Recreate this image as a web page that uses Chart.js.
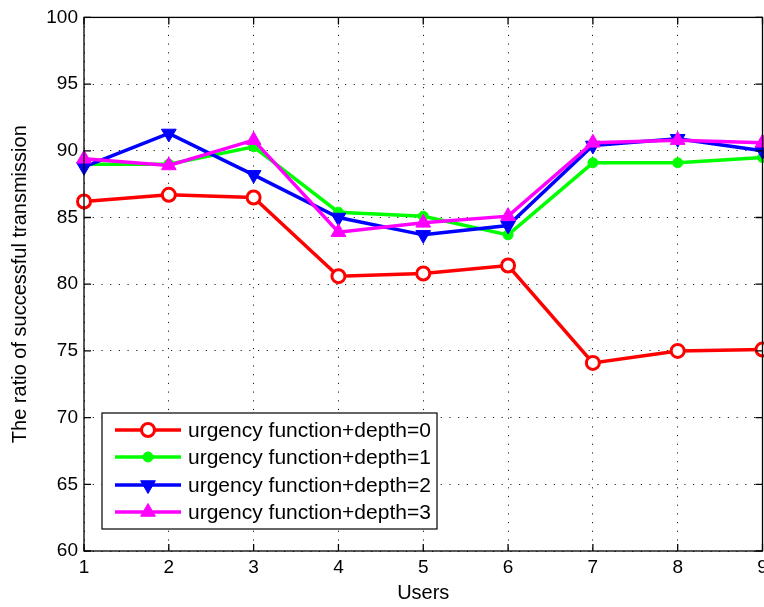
<!DOCTYPE html>
<html>
<head>
<meta charset="utf-8">
<script src="https://cdn.jsdelivr.net/npm/chart.js@4/dist/chart.umd.min.js"></script>
<style>
  html, body { margin: 0; padding: 0; background: #fff; overflow: hidden; }
  #clip { width: 764px; height: 607px; overflow: hidden; }
  #wrap { width: 772px; height: 607px; }
</style>
</head>
<body>
<div id="clip"><div id="wrap"><canvas id="graf"></canvas></div></div>
<script>
// data
const users = [1, 2, 3, 4, 5, 6, 7, 8, 9];
const depth0 = [86.2, 86.7, 86.5, 80.6, 80.8, 81.4, 74.1, 75.0, 75.1];
const depth1 = [89.0, 89.0, 90.3, 85.4, 85.1, 83.7, 89.1, 89.1, 89.5];
const depth2 = [88.8, 91.3, 88.2, 85.0, 83.7, 84.4, 90.4, 90.9, 90.0];
const depth3 = [89.4, 88.9, 90.8, 83.9, 84.6, 85.1, 90.6, 90.8, 90.6];
const yTicks = [60, 65, 70, 75, 80, 85, 90, 95, 100];
const labels = ["urgency function+depth=0", "urgency function+depth=1",
                "urgency function+depth=2", "urgency function+depth=3"];

const FONT = "'Liberation Sans', Arial, sans-serif";

function pts(arr) {
  return users.map((u, i) => ({ x: u, y: arr[i] }));
}

// box, inward ticks and legend like matlab
const matlabBox = {
  id: "matlabBox",
  afterDraw(chart) {
    const ctx = chart.ctx;
    const a = chart.chartArea;
    const xs = chart.scales.x, ys = chart.scales.y;
    ctx.save();
    ctx.strokeStyle = "#000";
    ctx.lineWidth = 1.3;
    ctx.strokeRect(a.left, a.top, a.right - a.left, a.bottom - a.top);
    ctx.beginPath();
    users.forEach(u => {
      const px = xs.getPixelForValue(u);
      ctx.moveTo(px, a.bottom); ctx.lineTo(px, a.bottom - 7);
      ctx.moveTo(px, a.top); ctx.lineTo(px, a.top + 7);
    });
    yTicks.forEach(v => {
      const py = ys.getPixelForValue(v);
      ctx.moveTo(a.left, py); ctx.lineTo(a.left + 7, py);
      ctx.moveTo(a.right, py); ctx.lineTo(a.right - 7, py);
    });
    ctx.stroke();

    // legend box
    const bx = 102, by = 413, bw = 335, bh = 116;
    ctx.fillStyle = "#fff";
    ctx.fillRect(bx, by, bw, bh);
    ctx.lineWidth = 1.2;
    ctx.strokeRect(bx, by, bw, bh);
    const rows = [430, 457, 485, 512];
    chart.data.datasets.forEach((ds, i) => {
      const y = rows[i];
      ctx.strokeStyle = ds.borderColor;
      ctx.lineWidth = ds.borderWidth;
      ctx.beginPath();
      ctx.moveTo(115, y); ctx.lineTo(181, y);
      ctx.stroke();
      ctx.fillStyle = ds.pointBackgroundColor;
      ctx.lineWidth = ds.pointBorderWidth;
      Chart.helpers.drawPoint(ctx, {
        pointStyle: ds.pointStyle,
        rotation: ds.pointRotation || 0,
        radius: ds.pointRadius,
        borderWidth: ds.pointBorderWidth
      }, 148, y);
      ctx.fillStyle = "#000";
      ctx.font = "21px " + FONT;
      ctx.textBaseline = "middle";
      ctx.textAlign = "left";
      ctx.fillText(ds.label, 188, y + 1);
    });
    ctx.restore();
  }
};

const canvas = document.getElementById("graf");
const ctx = canvas.getContext("2d");

const datasets = [
  { label: labels[0], data: pts(depth0), borderColor: "#ff0000", pointBackgroundColor: "#ffffff",
    pointStyle: "circle", pointRadius: 6.5, pointBorderWidth: 3, order: 4 },
  { label: labels[1], data: pts(depth1), borderColor: "#00ff00", pointBackgroundColor: "#00ff00",
    pointStyle: "circle", pointRadius: 5, pointBorderWidth: 1, order: 3 },
  { label: labels[2], data: pts(depth2), borderColor: "#0000ff", pointBackgroundColor: "#0000ff",
    pointStyle: "triangle", pointRotation: 180, pointRadius: 8.5, pointBorderWidth: 1, order: 2 },
  { label: labels[3], data: pts(depth3), borderColor: "#ff00ff", pointBackgroundColor: "#ff00ff",
    pointStyle: "triangle", pointRotation: 0, pointRadius: 8.5, pointBorderWidth: 1, order: 1 }
].map(ds => Object.assign({
  borderWidth: 3.5,
  tension: 0,
  fill: false,
  pointBorderColor: ds.borderColor,
  clip: false
}, ds));

new Chart(ctx, {
  type: "line",
  data: { datasets: datasets },
  plugins: [matlabBox],
  options: {
    responsive: true,
    maintainAspectRatio: false,
    animation: false,
    layout: { padding: { top: 16, right: 2, left: 0, bottom: 0 } },
    plugins: {
      legend: { display: false },
      tooltip: { enabled: false }
    },
    scales: {
      x: {
        type: "linear",
        min: 1, max: 9,
        afterBuildTicks: s => { s.ticks = users.map(v => ({ value: v })); },
        afterFit: s => { s.height = 56; s.paddingRight = 0; s.paddingLeft = 0; },
        grid: { color: "#222", lineWidth: 1, drawTicks: false },
        border: { display: false, dash: [1.2, 7.5] },
        ticks: { color: "#000", padding: 5, maxRotation: 0, font: { family: FONT, size: 19 } },
        title: { display: true, text: "Users", color: "#000", padding: { top: 0, bottom: 2 },
                 font: { family: FONT, size: 20 } }
      },
      y: {
        min: 60, max: 100,
        afterBuildTicks: s => { s.ticks = yTicks.map(v => ({ value: v })); },
        afterFit: s => { s.width = 84; },
        grid: { color: "#222", lineWidth: 1, drawTicks: false },
        border: { display: false, dash: [1.2, 7.5] },
        ticks: { color: "#000", padding: 6, font: { family: FONT, size: 19 } },
        title: { display: true, text: "The ratio of successful transmission", color: "#000",
                 padding: { top: 8, bottom: 2 }, font: { family: FONT, size: 20 } }
      }
    }
  }
});
</script>
</body>
</html>
